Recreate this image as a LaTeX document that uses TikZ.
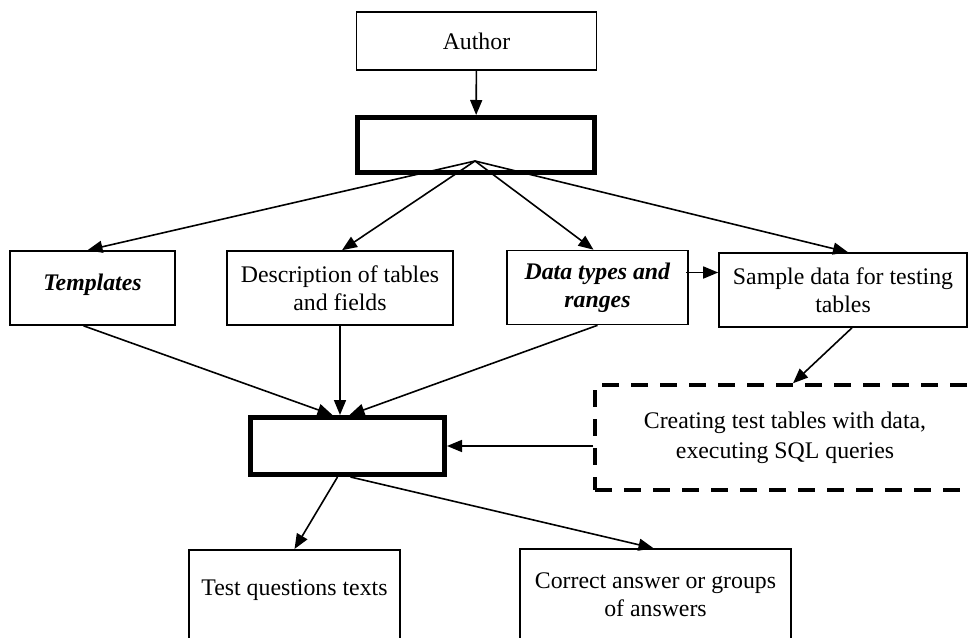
\documentclass[tikz,border=0pt]{standalone}
\usepackage{fontspec}
\setmainfont{Liberation Serif}
\usetikzlibrary{arrows.meta,calc}
\begin{document}
\begin{tikzpicture}[x=1pt,y=-1pt,
  box/.style={draw, line width=1.6pt, inner sep=0pt, font=\fontsize{23.8}{28}\selectfont},
  heavy/.style={draw, line width=5pt, inner sep=0pt},
  dbox/.style={draw, line width=3.5pt, dash pattern=on 17pt off 12pt, inner sep=0pt, align=center, font=\fontsize{23.8}{30}\selectfont},
  arr/.style={line width=1.6pt, -{Triangle[length=15pt,width=12pt]}}
]
\useasboundingbox (0,0) rectangle (968,637);
\clip (0,0) rectangle (968,637);

\node[box, minimum width=240pt, minimum height=58pt] (author) at (476.5,41) {Author};
\node[heavy, minimum width=237pt, minimum height=55pt] (b1) at (476,145) {};
\node[box, minimum width=165pt, minimum height=74pt, text depth=12pt] (tmpl) at (92.5,288) {\textbf{\textit{Templates}}};
\node[box, align=center, minimum width=226pt, minimum height=74pt] (desc) at (340,288) {Description of tables\\and fields};
\node[box, align=center, minimum width=181pt, minimum height=74pt] (data) at (597.5,287.5) {\textbf{\textit{Data types and}}\\\textbf{\textit{ranges}}};
\node[box, align=center, minimum width=248pt, minimum height=74pt] (samp) at (843,290) {Sample data for testing\\tables};
\node[dbox, minimum width=380pt, minimum height=105pt] (exec) at (785,437.5) {Creating test tables with data,\\executing SQL queries};
\node[heavy, minimum width=194pt, minimum height=57pt] (b2) at (347.5,446) {};
\node[box, anchor=north, minimum width=211pt, text height=46pt, text depth=50pt] (tq) at (294.5,549) {Test questions texts};
\node[box, align=center, minimum width=271pt, minimum height=92pt] (ca) at (655.5,595) {Correct answer or groups\\of answers};

\draw[arr] (author) -- (b1);
\coordinate (F) at (475,161);
\draw[arr] (F) -- ([xshift=-5pt]tmpl.north);
\draw[arr] (F) -- ([xshift=2pt]desc.north);
\draw[arr] (F) -- ([xshift=-4pt]data.north);
\draw[arr] (F) -- ([xshift=5pt]samp.north);
\coordinate (dse) at ([yshift=15pt]data.east);
\draw[arr] ([xshift=-3pt]dse) -- (dse -| samp.west);
\draw[arr] ([xshift=-9pt]tmpl.south) -- ([xshift=-15pt]b2.north);
\draw[arr] (desc.south) -- (desc.south |- b2.north);
\draw[arr] (data.south) -- ([xshift=2pt]b2.north);
\draw[arr] ([xshift=9pt]samp.south) -- ([xshift=8pt]exec.north);
\draw[arr] (exec.west |- b2.east) -- (b2.east);
\draw[arr] ([xshift=-10pt]b2.south) -- (tq.north);
\draw[arr] ([xshift=3pt]b2.south) -- ([xshift=-2pt]ca.north);
\end{tikzpicture}
\end{document}
